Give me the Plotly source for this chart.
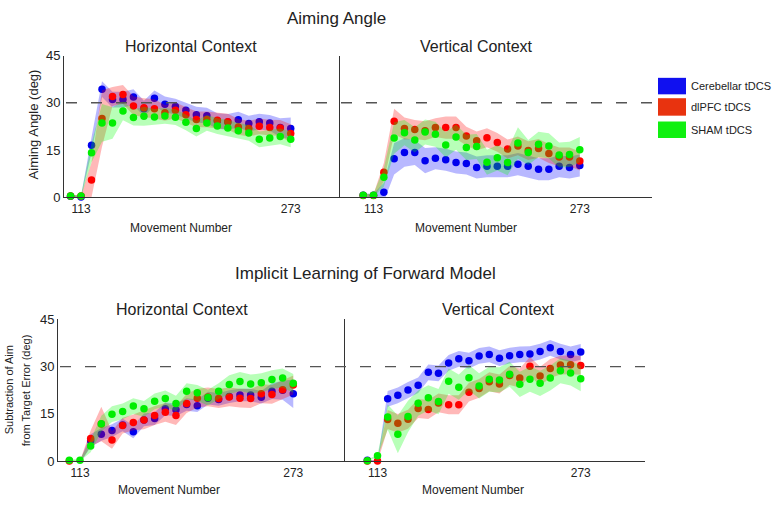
import plotly.graph_objects as go

# ---------------- data ----------------
movement = [105, 113, 121, 129, 137, 145, 153, 161, 169, 177, 185, 193,
            201, 209, 217, 225, 233, 241, 249, 257, 265, 273]
x_tick_vals = [113, 273]
x_tick_text = ["113", "273"]
y_tick_vals = [0, 15, 30, 45]
y_tick_text = ["0", "15", "30", "45"]
series_names = ["Cerebellar tDCS", "dlPFC tDCS", "SHAM tDCS"]

# Aiming angle - horizontal context
aim_h_cereb = [0.3, 0.1, 16.5, 34.3, 31.0, 31.0, 31.8, 28.1, 31.4, 29.5, 28.8, 27.6,
               26.2, 25.9, 24.2, 23.9, 24.6, 23.4, 24.0, 23.6, 22.1, 21.8]
aim_h_dlpfc = [0.4, 0.4, 5.5, 25.0, 32.0, 32.6, 29.0, 28.4, 28.1, 26.8, 27.6, 26.2,
               24.7, 24.7, 24.4, 24.0, 22.3, 21.8, 22.5, 22.1, 22.0, 20.2]
aim_h_sham = [0.4, 0.4, 14.1, 23.6, 23.6, 27.4, 25.3, 25.7, 25.5, 25.8, 25.4, 23.8,
              21.8, 23.6, 22.6, 22.0, 21.1, 20.4, 18.4, 18.8, 19.3, 18.4]
aim_h_cereb_sem = [0.3, 0.3, 2.5, 2.5, 2.5, 2.5, 2.5, 2.5, 2.5, 2.5, 2.5, 2.5,
                   2.5, 2.5, 2.5, 2.5, 2.5, 2.5, 2.5, 2.5, 3.0, 3.5]
aim_h_dlpfc_sem = [0.3, 0.3, 5.5, 9.0, 3.0, 3.0, 3.0, 3.0, 3.0, 2.5, 2.5, 2.5,
                   2.5, 2.5, 2.5, 2.5, 2.5, 2.5, 2.5, 2.5, 2.5, 3.0]
aim_h_sham_sem = [0.3, 0.3, 3.0, 6.0, 5.0, 3.0, 2.5, 3.0, 2.5, 2.5, 2.5, 2.5,
                  2.5, 2.5, 2.5, 2.5, 2.5, 2.5, 2.5, 2.5, 2.5, 2.5]

# Aiming angle - vertical context
aim_v_cereb = [0.6, 0.6, 1.6, 12.2, 14.2, 14.2, 11.6, 12.4, 11.9, 11.0, 10.7, 9.4,
               9.8, 9.8, 9.8, 10.5, 9.8, 8.9, 8.9, 9.8, 9.4, 10.1]
aim_v_dlpfc = [0.5, 0.5, 7.9, 24.1, 21.8, 21.5, 21.1, 22.1, 22.1, 22.1, 19.4, 17.9,
               18.9, 17.4, 15.3, 16.3, 14.8, 15.5, 13.9, 12.8, 12.8, 11.5]
aim_v_sham = [0.6, 0.6, 6.3, 18.8, 20.5, 18.2, 20.7, 20.0, 16.6, 19.1, 15.8, 16.1,
              11.1, 12.5, 11.0, 17.2, 14.2, 16.8, 16.3, 13.4, 13.6, 15.1]
aim_v_cereb_sem = [0.5, 0.5, 3.0, 5.0, 4.5, 4.0, 4.0, 3.5, 3.5, 3.5, 3.5, 3.5,
                   3.5, 3.5, 3.5, 3.5, 3.5, 3.5, 3.5, 3.5, 3.5, 3.5]
aim_v_dlpfc_sem = [0.5, 0.5, 3.0, 4.0, 3.5, 3.0, 3.0, 3.0, 3.5, 3.5, 3.0, 3.0,
                   3.0, 3.0, 3.0, 3.0, 3.0, 3.0, 3.0, 3.0, 3.0, 3.0]
aim_v_sham_sem = [0.5, 0.5, 3.0, 5.0, 4.0, 4.0, 4.0, 4.0, 4.0, 4.0, 4.0, 4.0,
                  4.0, 4.0, 4.0, 5.0, 4.0, 4.0, 4.0, 4.0, 4.0, 4.0]

# Implicit learning - horizontal context
imp_h_cereb = [-0.3, -0.3, 6.5, 8.5, 9.7, 11.5, 9.3, 13.1, 13.5, 16.6, 16.3, 18.0,
               17.6, 20.0, 19.6, 20.5, 21.0, 21.0, 20.3, 22.2, 22.5, 21.4]
imp_h_dlpfc = [0.0, -0.2, 7.2, 11.8, 6.7, 11.3, 12.3, 13.1, 14.5, 15.5, 14.5, 18.3,
               20.0, 20.4, 19.9, 20.4, 20.0, 19.9, 21.4, 21.2, 22.7, 24.2]
imp_h_sham = [0.3, 0.3, 4.8, 11.9, 14.9, 15.8, 17.5, 16.6, 19.0, 19.9, 18.3, 22.2,
              21.7, 20.2, 22.2, 24.3, 25.3, 24.5, 24.9, 25.9, 26.4, 24.7]
imp_h_cereb_sem = [0.3, 0.3, 2.0, 2.0, 2.0, 2.0, 2.0, 2.0, 2.0, 2.0, 2.0, 2.0,
                   2.0, 2.0, 2.0, 2.0, 2.0, 2.0, 2.0, 2.5, 3.0, 4.5]
imp_h_dlpfc_sem = [0.3, 0.3, 2.5, 5.5, 2.8, 2.5, 2.5, 3.0, 3.0, 3.0, 3.0, 3.0,
                   3.0, 3.0, 3.0, 3.0, 3.0, 3.0, 3.0, 3.0, 3.0, 3.0]
imp_h_sham_sem = [0.3, 0.3, 2.0, 2.5, 2.5, 2.5, 2.5, 2.5, 2.5, 2.5, 2.5, 2.5,
                  2.5, 2.5, 2.5, 3.0, 3.0, 3.0, 3.0, 3.0, 3.0, 3.0]

# Implicit learning - vertical context
imp_v_cereb = [0.3, -0.3, 19.8, 20.9, 22.6, 24.1, 28.2, 27.9, 31.2, 32.5, 31.9, 33.4,
               33.9, 32.7, 33.5, 33.9, 34.0, 34.8, 36.0, 34.8, 33.9, 34.7]
imp_v_dlpfc = [0.0, 0.0, 13.2, 12.0, 13.3, 16.7, 16.4, 18.5, 17.9, 17.9, 21.9, 23.1,
               25.2, 24.5, 27.2, 26.4, 30.1, 27.0, 29.4, 30.5, 30.6, 30.4]
imp_v_sham = [0.1, 1.7, 14.0, 8.5, 14.2, 18.4, 20.1, 18.9, 25.4, 23.5, 26.5, 23.9,
              26.0, 25.8, 27.6, 24.4, 26.0, 24.7, 26.4, 28.7, 28.0, 26.2]
imp_v_cereb_sem = [0.3, 0.3, 2.5, 2.5, 2.5, 2.5, 2.5, 2.5, 2.5, 2.5, 2.5, 2.5,
                   2.5, 2.5, 2.5, 2.5, 2.5, 2.5, 2.5, 2.5, 2.5, 2.5]
imp_v_dlpfc_sem = [0.3, 0.3, 3.0, 3.0, 3.0, 3.0, 3.0, 3.0, 3.0, 3.0, 3.0, 3.0,
                   3.0, 3.0, 3.0, 3.0, 3.0, 3.0, 3.0, 3.0, 3.0, 3.0]
imp_v_sham_sem = [0.3, 0.3, 4.0, 6.0, 5.0, 4.0, 4.0, 4.0, 4.0, 4.0, 4.0, 4.0,
                  4.0, 4.0, 4.0, 4.0, 4.0, 4.0, 4.0, 4.0, 4.0, 4.0]

# ---------------- styling ----------------
W, H = 773, 506
FONT = "Liberation Sans, Arial, Helvetica, sans-serif"
dot_colors = ["#0000ee", "#ff0000", "#00ee00"]
band_colors = ["rgba(0,0,255,0.28)", "rgba(255,0,0,0.28)", "rgba(0,255,0,0.28)"]
legend_colors = ["#1010f0", "#e8330f", "#10f010"]
AXC = "#333333"


def px(x):
    return x / W


def py(y):
    return 1 - y / H


panels = [
    ("x", "y", [aim_h_cereb, aim_h_dlpfc, aim_h_sham],
     [aim_h_cereb_sem, aim_h_dlpfc_sem, aim_h_sham_sem]),
    ("x2", "y2", [aim_v_cereb, aim_v_dlpfc, aim_v_sham],
     [aim_v_cereb_sem, aim_v_dlpfc_sem, aim_v_sham_sem]),
    ("x3", "y3", [imp_h_cereb, imp_h_dlpfc, imp_h_sham],
     [imp_h_cereb_sem, imp_h_dlpfc_sem, imp_h_sham_sem]),
    ("x4", "y4", [imp_v_cereb, imp_v_dlpfc, imp_v_sham],
     [imp_v_cereb_sem, imp_v_dlpfc_sem, imp_v_sham_sem]),
]

fig = go.Figure()
for xa, ya, means, sems in panels:
    for k in range(3):
        m, s = means[k], sems[k]
        upper = [a + b for a, b in zip(m, s)]
        lower = [a - b for a, b in zip(m, s)]
        fig.add_trace(go.Scatter(
            x=movement + movement[::-1], y=upper + lower[::-1],
            fill="toself", fillcolor=band_colors[k], line=dict(width=0),
            mode="lines", xaxis=xa, yaxis=ya, showlegend=False, hoverinfo="skip"))
        fig.add_trace(go.Scatter(
            x=movement, y=m, mode="markers", name=series_names[k],
            marker=dict(color=dot_colors[k], size=7.5, line=dict(width=0)),
            xaxis=xa, yaxis=ya, showlegend=False, cliponaxis=False))

# axis domains (pixel positions)
x_dom = {
    "x": (64, 340), "x2": (340, 652), "x3": (58, 345), "x4": (345, 645)}
x_rng = {
    "x": (100, 310.6), "x2": (87, 329), "x3": (96.5, 311.8), "x4": (87.4, 323.6)}
y_dom_top = (py(196), py(50))
y_dom_bot = (py(468), py(322))

layout_axes = {}
for i, key in enumerate(["x", "x2", "x3", "x4"]):
    name = "xaxis" if key == "x" else "xaxis" + key[1:]
    yname = "y" if key == "x" else "y" + key[1:]
    layout_axes[name] = dict(
        domain=[px(x_dom[key][0]), px(x_dom[key][1])], range=list(x_rng[key]),
        anchor=yname, showline=True, linecolor=AXC, linewidth=1,
        showgrid=False, zeroline=False, ticks="",
        tickvals=x_tick_vals, ticktext=x_tick_text,
        tickfont=dict(family=FONT, size=12, color="#222"))
for i, key in enumerate(["y", "y2", "y3", "y4"]):
    name = "yaxis" if key == "y" else "yaxis" + key[1:]
    xname = "x" if key == "y" else "x" + key[1:]
    dom = y_dom_top if i < 2 else y_dom_bot
    layout_axes[name] = dict(
        domain=list(dom), range=[0, 45], anchor=xname,
        showline=True, linecolor=AXC, linewidth=1,
        showgrid=False, zeroline=False, ticks="",
        tickvals=y_tick_vals, ticktext=y_tick_text,
        showticklabels=(i % 2 == 0),
        tickfont=dict(family=FONT, size=13, color="#222"))

fig.update_layout(**layout_axes)

shapes = [
    dict(type="line", xref="paper", yref="y", x0=px(66), x1=px(652), y0=30, y1=30,
         line=dict(color="#555", width=1.3, dash="11px,14px")),
    dict(type="line", xref="paper", yref="y3", x0=px(60), x1=px(645), y0=30, y1=30,
         line=dict(color="#555", width=1.3, dash="11px,14px")),
]
# legend swatches
leg_rows = [(73, 90), (94, 112), (118, 135)]
for k, (t, b) in enumerate(leg_rows):
    shapes.append(dict(type="rect", xref="paper", yref="paper",
                       x0=px(658), x1=px(686), y0=py(b), y1=py(t),
                       fillcolor=legend_colors[k], line=dict(width=0)))

annotations = []


def ann(text, x, y, size, angle=0):
    annotations.append(dict(text=text, x=px(x), y=py(y), xref="paper", yref="paper",
                            xanchor="center", yanchor="middle", showarrow=False,
                            textangle=angle,
                            font=dict(family=FONT, size=size, color="#222")))


ann("Aiming Angle", 336, 12, 17)
ann("Horizontal Context", 191, 41, 16)
ann("Vertical Context", 476, 41, 16)
ann("Implicit Learning of Forward Model", 365, 275, 17)
ann("Horizontal Context", 182, 312, 16)
ann("Vertical Context", 498, 312, 16)
ann("Movement Number", 181, 228, 12)
ann("Movement Number", 466, 228, 12)
ann("Movement Number", 169, 498, 12)
ann("Movement Number", 473, 498, 12)
ann("Aiming Angle (deg)", 33, 121, 13, -90)
ann("Subtraction of Aim", 9, 395, 11, -90)
ann("from Target Error (deg)", 26, 395, 11, -90)
for k, (t, b) in enumerate(leg_rows):
    annotations.append(dict(text=series_names[k], x=px(689), y=py((t + b) / 2),
                            xref="paper", yref="paper", xanchor="left",
                            yanchor="middle", showarrow=False,
                            font=dict(family=FONT, size=11, color="#222")))

fig.update_layout(
    width=W, height=H, margin=dict(l=0, r=0, t=0, b=0),
    paper_bgcolor="white", plot_bgcolor="white",
    shapes=shapes, annotations=annotations, showlegend=False,
    font=dict(family=FONT))

fig.write_html(
    "out.html", config={"displayModeBar": False},
    post_script="document.body.style.margin='0px';document.body.style.overflow='hidden';")
